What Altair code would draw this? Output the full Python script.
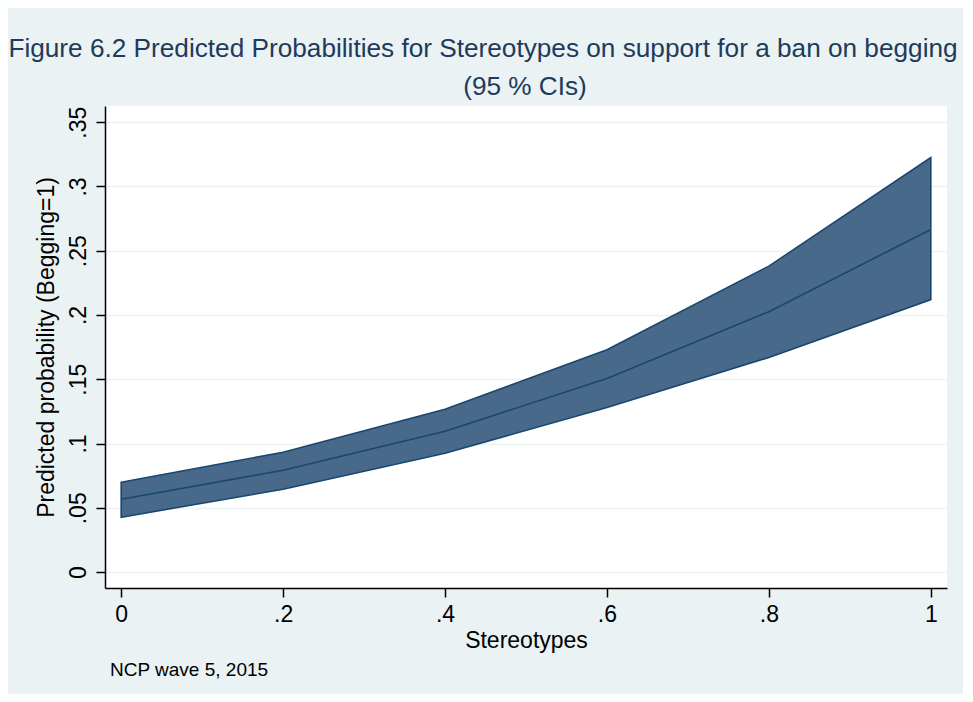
import altair as alt
import pandas as pd

# Data
stereotypes = [0.0, 0.2, 0.4, 0.6, 0.8, 1.0]
pred_mid = [0.0567, 0.0792, 0.1095, 0.1506, 0.2026, 0.2665]
pred_lo = [0.0427, 0.0644, 0.0924, 0.1280, 0.1670, 0.2120]
pred_hi = [0.0699, 0.0932, 0.1266, 0.1730, 0.2380, 0.3225]

x_ticks = [0, 0.2, 0.4, 0.6, 0.8, 1]
y_ticks = [0, 0.05, 0.1, 0.15, 0.2, 0.25, 0.3, 0.35]

title_line1 = "Figure 6.2 Predicted Probabilities for Stereotypes on support for a ban on begging"
title_line2 = "(95 % CIs)"
note_text = "NCP wave 5, 2015"
x_title = "Stereotypes"
y_title = "Predicted probability (Begging=1)"

df = pd.DataFrame({"x": stereotypes, "mid": pred_mid, "lo": pred_lo, "hi": pred_hi})

FONT = "Liberation Sans"
NAVY = "#1A476F"
FILL = "#48698A"
BG = "#EAF2F3"
TITLE_C = "#1E3A5C"

label_expr = "datum.value == 0 ? '0' : (datum.value >= 1 ? '1' : slice(format(datum.value, '~g'), 1))"

xscale = alt.Scale(domain=[-0.02, 1.02], nice=False, zero=False)
yscale = alt.Scale(domain=[-0.0124, 0.3626], nice=False, zero=False)

xaxis = alt.Axis(values=x_ticks, labelExpr=label_expr, grid=False, title=x_title,
                 titleFontSize=23, labelFontSize=23, titlePadding=3, labelPadding=6,
                 tickSize=9)
yaxis = alt.Axis(values=y_ticks, labelExpr=label_expr, grid=True, title=y_title,
                 titleFontSize=23, labelFontSize=23, labelAngle=270, labelAlign="center",
                 labelBaseline="bottom", labelPadding=6, titlePadding=9, tickSize=9,
                 gridColor=BG, gridWidth=1.5)

band = alt.Chart(df).mark_area(color=FILL, opacity=1, stroke=NAVY, strokeWidth=1.6).encode(
    x=alt.X("x:Q", scale=xscale, axis=xaxis),
    y=alt.Y("hi:Q", scale=yscale, axis=yaxis),
    y2="lo:Q",
)

line = alt.Chart(df).mark_line(color=NAVY, strokeWidth=1.6).encode(
    x=alt.X("x:Q", scale=xscale),
    y=alt.Y("mid:Q", scale=yscale),
)

title_df = pd.DataFrame({"t": [title_line1]})
ttl = alt.Chart(title_df).mark_text(font=FONT, fontSize=26.2, color=TITLE_C, align="center",
                                    baseline="alphabetic").encode(
    x=alt.value(378), y=alt.value(-49), text="t:N")

txt_df = pd.DataFrame({"t": [title_line2]})
sub = alt.Chart(txt_df).mark_text(font=FONT, fontSize=26.2, color=TITLE_C, align="center",
                                  baseline="alphabetic").encode(
    x=alt.value(420), y=alt.value(-11), text="t:N")

note_df = pd.DataFrame({"t": [note_text]})
note = alt.Chart(note_df).mark_text(font=FONT, fontSize=19, color="black", align="left",
                                    baseline="alphabetic").encode(
    x=alt.value(5), y=alt.value(570), text="t:N")

chart = alt.layer(band, line, ttl, sub, note).properties(
    width=842, height=482,
    padding={"left": 97, "top": 98, "right": 16, "bottom": 106},
    autosize=alt.AutoSizeParams(type="none"),
    background=BG,
).configure_view(fill="white", strokeWidth=0).configure_axis(
    labelFont=FONT, titleFont=FONT, labelColor="black", titleColor="black",
    titleFontWeight="normal", domainColor="black", tickColor="black",
    domainWidth=1.5, tickWidth=1.5,
)

chart.save("out.html", embed_options={"renderer": "svg", "actions": False})
